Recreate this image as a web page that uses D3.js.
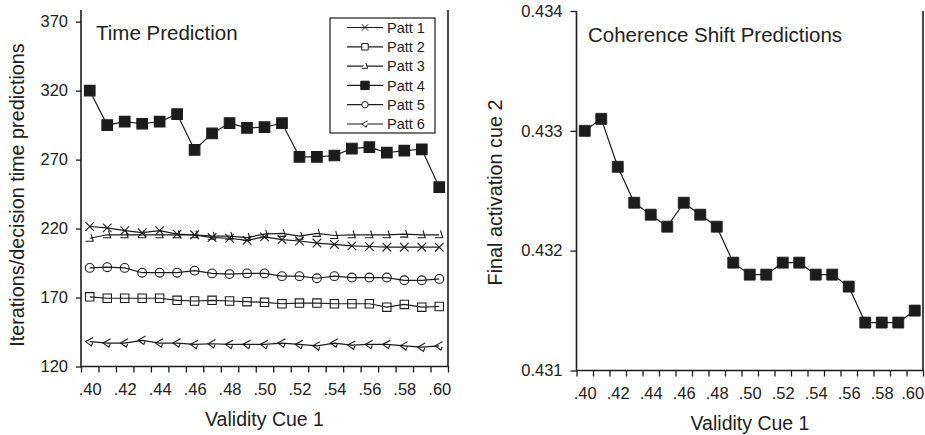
<!DOCTYPE html>
<html><head><meta charset="utf-8">
<script src="https://cdn.jsdelivr.net/npm/d3@7"></script>
<style>
body{margin:0;background:#fff}
svg{display:block;font-family:"Liberation Sans",Arial,Helvetica,sans-serif}
</style></head><body>
<svg id="c" width="925" height="435"></svg>
<script>
// ---------- data ----------
const validity = [0.40,0.41,0.42,0.43,0.44,0.45,0.46,0.47,0.48,0.49,0.50,0.51,0.52,0.53,0.54,0.55,0.56,0.57,0.58,0.59,0.60];
const xLabelValues = [0.40,0.42,0.44,0.46,0.48,0.50,0.52,0.54,0.56,0.58,0.60];
const xLabelText = [".40",".42",".44",".46",".48",".50",".52",".54",".56",".58",".60"];
const seriesNames = ["Patt 1","Patt 2","Patt 3","Patt 4","Patt 5","Patt 6"];
const patt1 = [221.5,220.5,218.5,217,218.5,216,215.5,213.5,213,211.5,214,212,211,209.5,208.5,207.5,207,206.5,206.5,206.5,206.5];
const patt2 = [170.5,169.5,169.5,169.5,169.5,168,167.5,168,167.5,167,166.5,165.5,166,166,165.5,165.5,165.5,163,165,163,163.5];
const patt3 = [213,215.5,215.5,215.5,215.5,215.5,215.5,214.5,214.5,213.5,216,216.5,214.5,216.5,215,215.5,215.5,215.5,216,215.5,215.5];
const patt4 = [320,295,297.5,296,297.5,303,277,289,296.5,293,293.5,296.5,272,272,273,278,279,275,276.5,277.5,250];
const patt5 = [191.5,192,191.5,188,188,188,189.5,187.5,187,187.5,187.5,185.5,185.5,184,185.5,184.5,184.5,184.5,182.5,182.5,183.5];
const patt6 = [138,137,137,139,137,137,136,136.5,136,136,136,137,136,135,137,135.5,136,136,135,134,135];
const cue2Activation = [0.4330,0.4331,0.4327,0.4324,0.4323,0.4322,0.4324,0.4323,0.4322,0.4319,0.4318,0.4318,0.4319,0.4319,0.4318,0.4318,0.4317,0.4314,0.4314,0.4314,0.4315];
const leftYTicks = [120,170,220,270,320,370];
const rightYTicks = [0.431,0.432,0.433,0.434];
const leftTitle = "Time Prediction";
const rightTitle = "Coherence Shift Predictions";
const xTitle = "Validity Cue 1";
const leftYTitle = "Iterations/decision time predictions";
const rightYTitle = "Final activation cue 2";

// ---------- drawing ----------
const ink = "#1c1c1c";
const textInk = "#222";
const svg = d3.select("#c");

const markerPath = {
  cross: s => `M${-s},${-s}L${s},${s}M${-s},${s}L${s},${-s}`,
  square: s => `M${-s},${-s}H${s}V${s}H${-s}Z`,
  hook: s => `M${-s},${s*0.7}H${s*0.8}L${s*0.3},${-s}`,
  circle: s => `M${s},0A${s},${s} 0 1 1 ${-s},0A${s},${s} 0 1 1 ${s},0Z`,
  arrow: s => `M${s*0.8},${-s}L${-s},0L${s*0.4},${s}L${s*0.7},${s*0.2}`
};
const seriesStyle = [
  {shape:"cross", size:4.3, fill:"none"},
  {shape:"square", size:4.2, fill:"none"},
  {shape:"hook", size:4.3, fill:"none"},
  {shape:"square", size:5.3, fill:ink},
  {shape:"circle", size:4.4, fill:"none"},
  {shape:"arrow", size:4.2, fill:"none"}
];
const allSeries = [patt1,patt2,patt3,patt4,patt5,patt6];

function frame(g, x, y, top, lastShift){
  const [x0,x1] = x.range();
  const yb = y.range()[0];
  // tick marks at category boundaries
  const bounds = d3.range(22).map(i => 0.395 + i*0.01);
  g.append("g").attr("transform",`translate(0,${yb})`)
    .call(d3.axisBottom(x).tickValues(bounds).tickSize(6).tickFormat(()=>""))
    .call(a=>{a.select(".domain").remove(); a.selectAll("line").attr("stroke",ink).attr("stroke-width",1.3);});
  g.append("g").attr("transform",`translate(0,${yb})`)
    .call(d3.axisBottom(x).tickValues(xLabelValues).tickSize(0).tickPadding(17).tickFormat((d,i)=>xLabelText[i]))
    .call(a=>{a.select(".domain").remove();
      a.selectAll("text").attr("font-size",16.5).attr("fill",textInk).attr("font-family",null)
        .attr("dx",(d,i,n)=> i===n.length-1 ? lastShift : 0);});
  g.append("path").attr("d",`M${x0},${top}V${yb}H${x1}V${top}`)
    .attr("fill","none").attr("stroke",ink).attr("stroke-width",1.6);
}

// ----- left panel -----
const xL = d3.scaleLinear().domain([0.395,0.605]).range([81,448]);
const yL = d3.scaleLinear().domain([120,370]).range([366.5,21.7]);
const gL = svg.append("g");
gL.append("g").attr("transform","translate(81,0)")
  .call(d3.axisLeft(yL).tickValues(leftYTicks).tickSize(5).tickPadding(8))
  .call(a=>{a.select(".domain").remove(); a.selectAll("line").attr("stroke",ink).attr("stroke-width",1.3);
    a.selectAll("text").attr("font-size",16.5).attr("fill",textInk).attr("font-family",null);});
frame(gL, xL, yL, 10, 0);

const line = (x,y) => d3.line().x((d,i)=>x(validity[i])).y(d=>y(d));
allSeries.forEach((s,k)=>{
  gL.append("path").attr("d",line(xL,yL)(s)).attr("fill","none").attr("stroke",ink).attr("stroke-width",1.2);
});
allSeries.forEach((s,k)=>{
  const st = seriesStyle[k];
  gL.append("g").selectAll("path").data(s).join("path")
    .attr("transform",(d,i)=>`translate(${xL(validity[i])},${yL(d)})`)
    .attr("d",markerPath[st.shape](st.size))
    .attr("fill",st.fill).attr("stroke",ink).attr("stroke-width",1.1);
});

// legend
const lg = gL.append("g");
lg.append("rect").attr("x",330).attr("y",18).attr("width",105).attr("height",115)
  .attr("fill","#fff").attr("stroke",ink).attr("stroke-width",1.2);
seriesNames.forEach((n,k)=>{
  const yy = 27.5 + k*19.3;
  const st = seriesStyle[k];
  lg.append("line").attr("x1",347).attr("x2",383).attr("y1",yy).attr("y2",yy).attr("stroke",ink).attr("stroke-width",1.2);
  lg.append("path").attr("transform",`translate(365,${yy})`).attr("d",markerPath[st.shape](k===3?4.2:3.2))
    .attr("fill",st.fill==="none"?"#fff":st.fill).attr("stroke",ink).attr("stroke-width",1);
  lg.append("text").attr("x",387).attr("y",yy).attr("dy","0.36em").attr("font-size",14.5).attr("fill",textInk).text(n);
});

gL.append("text").attr("x",96).attr("y",40).attr("font-size",20.5).attr("fill",textInk).text(leftTitle);
gL.append("text").attr("x",264.5).attr("y",426).attr("text-anchor","middle").attr("font-size",19.5).attr("fill",textInk).text(xTitle);
gL.append("text").attr("transform","translate(24,195) rotate(-90)").attr("text-anchor","middle").attr("font-size",19.8).attr("fill",textInk).text(leftYTitle);

// ----- right panel -----
const xR = d3.scaleLinear().domain([0.395,0.605]).range([576.5,923]);
const yR = d3.scaleLinear().domain([0.431,0.434]).range([370.5,11]);
const gR = svg.append("g");
gR.append("g").attr("transform","translate(576.5,0)")
  .call(d3.axisLeft(yR).tickValues(rightYTicks).tickSize(6).tickPadding(8).tickFormat(d3.format(".3f")))
  .call(a=>{a.select(".domain").remove(); a.selectAll("line").attr("stroke",ink).attr("stroke-width",1.3);
    a.selectAll("text").attr("font-size",16.5).attr("fill",textInk).attr("font-family",null);});
frame(gR, xR, yR, 11, -2.5);
gR.append("path").attr("d",line(xR,yR)(cue2Activation)).attr("fill","none").attr("stroke",ink).attr("stroke-width",1.2);
gR.append("g").selectAll("path").data(cue2Activation).join("path")
  .attr("transform",(d,i)=>`translate(${xR(validity[i])},${yR(d)})`)
  .attr("d",markerPath.square(5.5)).attr("fill",ink).attr("stroke",ink).attr("stroke-width",0.8);
gR.append("text").attr("x",588).attr("y",41.5).attr("font-size",20.5).attr("fill",textInk).text(rightTitle);
gR.append("text").attr("x",750).attr("y",430).attr("text-anchor","middle").attr("font-size",19.5).attr("fill",textInk).text(xTitle);
gR.append("text").attr("transform","translate(502,192.5) rotate(-90)").attr("text-anchor","middle").attr("font-size",19.8).attr("fill",textInk).text(rightYTitle);
</script></body></html>
